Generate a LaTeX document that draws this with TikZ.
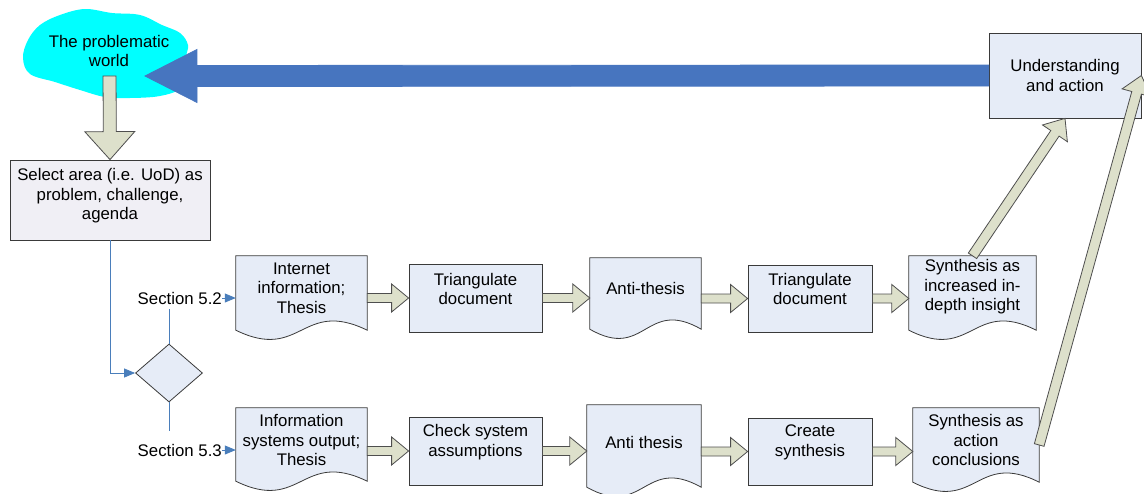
\documentclass[tikz,border=0pt]{standalone}
\usepackage{fontspec}
\setmainfont{Liberation Sans}
\usetikzlibrary{calc,shapes.geometric,arrows.meta}
\definecolor{boxfill}{HTML}{E6ECF7}
\definecolor{selfill}{HTML}{F0EFF5}
\definecolor{arrfill}{HTML}{DDE0CB}
\definecolor{bigblue}{HTML}{4775BF}
\definecolor{thinblue}{HTML}{4A7EBB}
\definecolor{cloudcyan}{HTML}{00FFFF}
\definecolor{edgegray}{HTML}{3A3A3A}
\tikzset{
  txt/.style={inner sep=0pt, align=center, font=\fontsize{16.8}{19.5}\selectfont},
  boxshape/.style={draw=edgegray, line width=0.8pt, fill=boxfill, inner sep=0pt},
  docbox/.style={draw=none, inner sep=0pt},
  docline/.style={draw=edgegray, line width=0.8pt, fill=boxfill},
  blockarrow/.style={draw=edgegray!90, line width=0.8pt, fill=arrfill, line join=miter},
  thinline/.style={draw=thinblue, line width=0.8pt},
  smalltip/.style={-{Triangle[length=11pt,width=9pt]}, thinblue},
}
% from, to, shaft half, head half, head length
\newcommand\blockarr[6][]{%
  \coordinate (ba) at (#2);
  \coordinate (bb) at (#3);
  \coordinate (bh) at ($(bb)!#6!(ba)$);
  \draw[blockarrow,#1] ($(ba)!#4!90:(bb)$) -- ($(bh)!#4!90:(bb)$) -- ($(bh)!#5!90:(bb)$) -- (bb)
     -- ($(bh)!#5!-90:(bb)$) -- ($(bh)!#4!-90:(bb)$) -- ($(ba)!#4!-90:(bb)$) -- cycle;
}
% name, cx, cy, w, h, text, text offset
\newcommand\docnode[7]{%
  \node[docbox, minimum width=#4, minimum height=#5] (#1) at (#2,#3) {};
  \draw[docline] (#1.north west) -- (#1.north east) -- (#1.south east)
     .. controls ($(#1.south)+(0,-32)$) and ($(#1.south)+(0,32)$) .. (#1.south west) -- cycle;
  \node[txt] (#1t) at ($(#1.center)+(0,#7)$) {#6};
}
% name, cx, cy, w, h, text, text offset, fill
\newcommand\boxnode[8]{%
  \node[boxshape, fill=#8, minimum width=#4, minimum height=#5] (#1) at (#2,#3) {};
  \node[txt] (#1t) at ($(#1.center)+(0,#7)$) {#6};
}
\begin{document}
\begin{tikzpicture}[x=1pt,y=-1pt]
\useasboundingbox (0,0) rectangle (1144,493);

% cloud
\fill[cloudcyan] plot[smooth cycle, tension=0.6] coordinates {
  (23,58) (28,40) (40,25) (60,15) (85,9) (112,13) (140,15) (162,25) (180,33)
  (188,45) (186,58) (190,72) (182,88) (160,96) (130,98) (105,97) (80,90) (55,82) (30,74)};
\node[txt] (world) at (109,51) {The problematic\\world};
\coordinate (wtip) at (145,76);
\coordinate (wbot) at (109.5,76);

% understanding box
\boxnode{und}{1065}{75.5}{152}{85}{\fontsize{16.8}{18}\selectfont Understanding\\and action}{0}{boxfill}

% big blue arrow
\blockarr[fill=bigblue, draw=bigblue]{und.west}{wtip}{10.5pt}{26.5pt}{52pt}

% select box
\boxnode{sel}{110}{200}{200}{80}{Select area (i.e. UoD) as\\problem, challenge,\\agenda}{-4}{selfill}
\blockarr{wbot}{sel.north}{6.5pt}{25pt}{28pt}

% diamond
\node[diamond, draw=edgegray, line width=0.8pt, fill=boxfill, inner sep=0pt,
      minimum width=67pt, minimum height=58pt] (dia) at (169,373) {};
\draw[thinline, smalltip] (sel.south) -- (sel.south |- dia.west) -- (dia.west);

% section labels
\node[txt, anchor=east] (s52) at (222,298) {Section 5.2};
\node[txt, anchor=east] (s53) at (222,450) {Section 5.3};
\draw[thinline] (dia.north) -- ++(0,-35);
\draw[thinline] (dia.south) -- ++(0,29);

% row 1
\docnode{d1}{301.5}{293}{131}{74}{Internet\\information;\\Thesis}{-5}
\boxnode{tri1}{475.5}{298}{133}{68}{Triangulate\\document}{-9}{boxfill}
\docnode{anti1}{645.5}{293.5}{111}{71}{Anti-thesis}{-5.5}
\boxnode{tri2}{810}{298.5}{124}{67}{Triangulate\\document}{-9.5}{boxfill}
\docnode{syn1}{972.5}{293}{127}{74}{Synthesis as\\increased in-\\depth insight}{-6}

% row 2
\docnode{d2}{301.5}{444.5}{131}{73}{Information\\systems output;\\Thesis}{-4.5}
\boxnode{chk}{475.5}{451}{133}{68}{Check system\\assumptions}{-9}{boxfill}
\docnode{anti2}{644}{446}{114}{82}{Anti thesis}{-4}
\boxnode{cre}{810}{451.5}{124}{67}{Create\\synthesis}{-9}{boxfill}
\docnode{syn2}{976}{445}{126}{74}{Synthesis as\\action\\conclusions}{-5}

\draw[thinline, smalltip] (s52.east) -- (s52.east -| d1.west);
\draw[thinline, smalltip] (s53.east) -- (s53.east -| d2.west);

% row 1 block arrows
\blockarr{d1.east |- tri1.west}{tri1.west}{4.5pt}{14pt}{17pt}
\blockarr{tri1.east}{tri1.east -| anti1.west}{4.5pt}{14pt}{17pt}
\blockarr{anti1.east |- tri2.east}{tri2.west}{4.5pt}{14pt}{17pt}
\blockarr{tri2.east}{tri2.east -| syn1.west}{4.5pt}{14pt}{17pt}

% row 2 block arrows
\blockarr{d2.east |- chk.west}{chk.west}{4.5pt}{14pt}{17pt}
\blockarr{chk.east}{chk.east -| anti2.west}{4.5pt}{14pt}{17pt}
\blockarr{anti2.east |- cre.east}{cre.west}{4.5pt}{14pt}{17pt}
\blockarr{cre.east}{cre.east -| syn2.west}{4.5pt}{14pt}{17pt}

% diagonal arrows
\blockarr{syn1.north}{und.south}{5pt}{15pt}{18pt}
\blockarr{syn2.east}{und.east}{5pt}{15pt}{18pt}
\end{tikzpicture}
\end{document}
